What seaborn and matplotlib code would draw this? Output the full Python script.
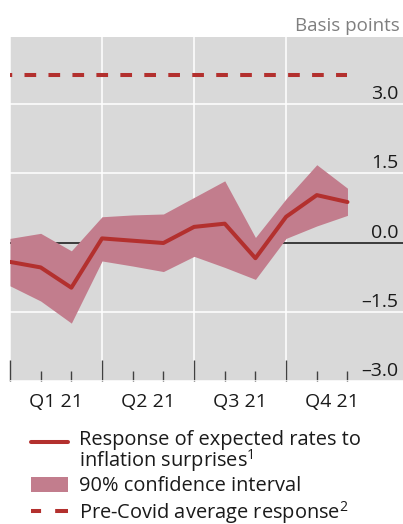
import numpy as np
import pandas as pd
import matplotlib
matplotlib.use('Agg')
import matplotlib.pyplot as plt
import seaborn as sns
from matplotlib.lines import Line2D
from matplotlib.patches import Patch

# monthly estimates, end of month
months = ['Dec 20', 'Jan 21', 'Feb 21', 'Mar 21', 'Apr 21', 'May 21',
          'Jun 21', 'Jul 21', 'Aug 21', 'Sep 21', 'Oct 21', 'Nov 21']
response = [-0.42, -0.54, -0.98, 0.09, 0.04, -0.01, 0.34, 0.41, -0.34, 0.56, 1.03, 0.88]
ci_upper = [0.09, 0.20, -0.18, 0.56, 0.60, 0.62, 0.98, 1.34, 0.11, 0.95, 1.69, 1.18]
ci_lower = [-0.94, -1.27, -1.75, -0.40, -0.51, -0.63, -0.30, -0.54, -0.80, 0.09, 0.36, 0.59]
pre_covid_avg = 3.63

quarter_labels = ['Q1 21', 'Q2 21', 'Q3 21', 'Q4 21']
y_ticks = [-3.0, -1.5, 0.0, 1.5, 3.0]
y_tick_labels = ['–3.0', '–1.5', '0.0', '1.5', '3.0']

red = '#b3302e'
band = '#c27d8d'
bg = '#d9d9d9'

df = pd.DataFrame({'month': months, 'pos': np.arange(len(months)),
                   'response': response, 'lower': ci_lower, 'upper': ci_upper})
df['pre_covid'] = pre_covid_avg

sns.set_theme(style='darkgrid')
plt.rcParams['font.family'] = ['Open Sans', 'DejaVu Sans']
plt.rcParams['mathtext.default'] = 'regular'
fs = 14

fig = plt.figure(figsize=(4.03, 5.24), dpi=100)
ax = fig.add_axes([10 / 403, 1 - 380.7 / 524, 393 / 403, (380.7 - 36.7) / 524])
ax.set_facecolor(bg)

ax.axhline(0, color='#3a3a3a', lw=1.4, zorder=1.5)
ax.fill_between(df['pos'], df['lower'], df['upper'], color=band, lw=0, zorder=2)
sns.lineplot(data=df, x='pos', y='response', color=red, lw=2.9, ax=ax, zorder=3)
sns.lineplot(data=df, x='pos', y='pre_covid', color=red, lw=2.9,
             linestyle=(2.35, (2.9, 3.05)), ax=ax, zorder=3)

ax.set_xlim(0, 12.81)
ax.set_ylim(-3.0, 4.47)
ax.set_xlabel('')
ax.set_ylabel('')

qstart = df['pos'].to_numpy()[::3]
ax.set_xticks(qstart)
ax.set_xticklabels([])
ax.set_xticks([p for p in df['pos'] if p not in qstart], minor=True)
ax.tick_params(axis='x', which='major', direction='in', length=15, width=1,
               color='#404040', bottom=True)
ax.tick_params(axis='x', which='minor', direction='in', length=7.2, width=1,
               color='#404040', bottom=True)
ax.set_yticks(y_ticks)
ax.set_yticklabels([])
ax.tick_params(axis='y', length=0)
ax.grid(True, which='major', color='white', lw=1.1)
ax.grid(False, which='minor')
for s in ax.spines.values():
    s.set_visible(False)

for v, lab in zip(y_ticks, y_tick_labels):
    ax.annotate(lab, xy=(1, v), xycoords=ax.get_yaxis_transform(),
                xytext=(-5, 5), textcoords='offset pixels',
                ha='right', va='baseline', fontsize=fs, color='#1a1a1a')

for q, lab in zip(qstart + 1.5, quarter_labels):
    ax.annotate(lab, xy=(q, 0), xycoords=ax.get_xaxis_transform(),
                xytext=(0, -12), textcoords='offset pixels',
                ha='center', va='top', fontsize=fs, color='#1a1a1a')

fig.text(400 / 403, 1 - 31 / 524, 'Basis points', ha='right', va='baseline',
         fontsize=fs - 0.5, color='#7f7f7f')

handles = [Line2D([], [], color=red, lw=2.9),
           Patch(facecolor=band, edgecolor='none'),
           Line2D([], [], color=red, lw=2.9, linestyle=(0.75, (3.25, 3.5)))]
labels = ['Response of expected rates to\ninflation surprises$^{1}$',
          '90% confidence interval',
          'Pre-Covid average response$^{2}$']
leg = fig.legend(handles, labels, loc='upper left', bbox_to_anchor=(31 / 403, 1 - 430 / 524),
                 frameon=False, fontsize=fs + 0.4, handlelength=1.85, handletextpad=0.55,
                 handleheight=0.77, labelspacing=0.12, borderpad=0, borderaxespad=0)
for t in leg.get_texts():
    t.set_linespacing(0.85)
    t.set_color('#1a1a1a')
# put the first handle next to the first text line, as in the source
first = leg.legend_handles[0]
first.set_ydata(np.asarray(first.get_ydata()) + 7.2)

fig.savefig('out.png', dpi=100)
